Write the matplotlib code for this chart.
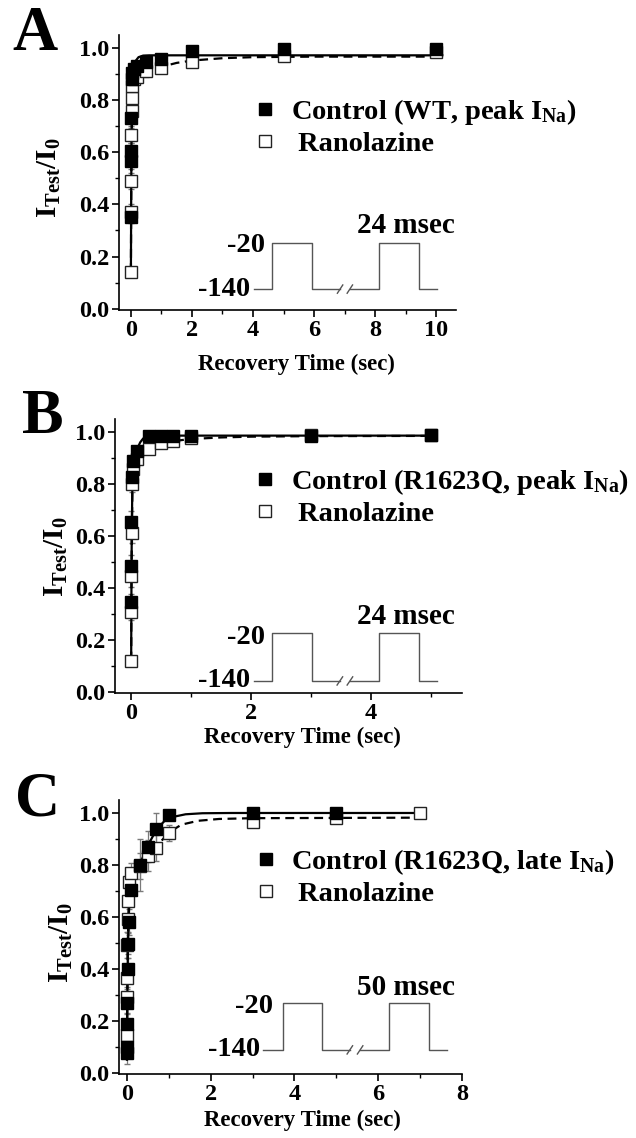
import matplotlib
matplotlib.use('Agg')
import matplotlib.pyplot as plt
from matplotlib.ticker import MultipleLocator

plt.rcParams['font.family'] = ['Liberation Serif', 'DejaVu Serif']
plt.rcParams['font.weight'] = 'bold'
plt.rcParams['mathtext.fontset'] = 'custom'
plt.rcParams['mathtext.rm'] = 'Liberation Serif:bold'
plt.rcParams['mathtext.it'] = 'Liberation Serif:bold'
plt.rcParams['mathtext.bf'] = 'Liberation Serif:bold'
plt.rcParams['axes.linewidth'] = 1.2

# ---- Panel A: WT, peak INa ----
a_ctl_t = [0.001, 0.002, 0.005, 0.01, 0.02, 0.05, 0.1, 0.2, 0.5, 1, 2, 5, 10]
a_ctl_y = [0.35, 0.565, 0.605, 0.73, 0.88, 0.905, 0.92, 0.93, 0.945, 0.958, 0.988, 0.995, 0.998]
a_ctl_e = [0.02, 0.03, 0.03, 0.03, 0.02, 0.02, 0.01, 0.01, 0.01, 0.01, 0.01, 0.01, 0.01]
a_ran_t = [0.001, 0.002, 0.005, 0.01, 0.02, 0.03, 0.05, 0.1, 0.2, 0.5, 1, 2, 5, 10]
a_ran_y = [0.14, 0.37, 0.49, 0.665, 0.76, 0.81, 0.855, 0.88, 0.89, 0.91, 0.925, 0.948, 0.97, 0.985]
a_ran_e = [0.02, 0.03, 0.03, 0.03, 0.03, 0.03, 0.02, 0.02, 0.02, 0.02, 0.015, 0.01, 0.01, 0.01]
a_ctl_fit_t = [0, 0.01, 0.02, 0.04, 0.07, 0.1, 0.15, 0.25, 0.4, 0.6, 10.2]
a_ctl_fit_y = [0.14, 0.45, 0.65, 0.82, 0.9, 0.93, 0.95, 0.965, 0.971, 0.972, 0.972]
a_ran_fit_t = [0, 0.01, 0.02, 0.04, 0.07, 0.1, 0.2, 0.4, 0.7, 1.0, 1.5, 2.0, 3.0, 4.0, 6.0, 10.2]
a_ran_fit_y = [0.14, 0.42, 0.6, 0.76, 0.83, 0.86, 0.88, 0.9, 0.915, 0.928, 0.943, 0.952, 0.961, 0.965, 0.967, 0.967]

# ---- Panel B: R1623Q, peak INa ----
b_ctl_t = [0.001, 0.002, 0.005, 0.01, 0.03, 0.1, 0.3, 0.5, 0.7, 1, 3, 5]
b_ctl_y = [0.345, 0.485, 0.655, 0.825, 0.89, 0.925, 0.986, 0.986, 0.986, 0.985, 0.985, 0.99]
b_ctl_e = [0.03, 0.04, 0.04, 0.03, 0.02, 0.01, 0.01, 0.01, 0.01, 0.01, 0.01, 0.01]
b_ran_t = [0.001, 0.002, 0.005, 0.01, 0.02, 0.03, 0.1, 0.3, 0.5, 0.7, 1, 3, 5]
b_ran_y = [0.118, 0.305, 0.444, 0.612, 0.80, 0.857, 0.895, 0.933, 0.958, 0.964, 0.977, 0.988, 0.988]
b_ran_e = [0.02, 0.03, 0.04, 0.04, 0.03, 0.02, 0.02, 0.015, 0.01, 0.01, 0.01, 0.01, 0.01]
b_ctl_fit_t = [0, 0.005, 0.01, 0.02, 0.04, 0.07, 0.1, 0.15, 0.2, 0.3, 0.5, 5.1]
b_ctl_fit_y = [0.13, 0.45, 0.62, 0.8, 0.88, 0.915, 0.935, 0.96, 0.975, 0.984, 0.986, 0.986]
b_ran_fit_t = [0, 0.005, 0.01, 0.02, 0.04, 0.07, 0.1, 0.2, 0.3, 0.5, 0.7, 1.0, 1.5, 2.0, 3.0, 5.1]
b_ran_fit_y = [0.12, 0.4, 0.58, 0.78, 0.86, 0.885, 0.9, 0.92, 0.935, 0.955, 0.965, 0.973, 0.979, 0.982, 0.984, 0.985]

# ---- Panel C: R1623Q, late INa ----
c_ctl_t = [0.001, 0.002, 0.005, 0.01, 0.02, 0.03, 0.05, 0.1, 0.3, 0.5, 0.7, 1, 3, 5]
c_ctl_y = [0.074, 0.10, 0.187, 0.27, 0.40, 0.496, 0.58, 0.702, 0.80, 0.87, 0.939, 0.992, 1.0, 1.0]
c_ctl_e = [0.04, 0.04, 0.04, 0.04, 0.04, 0.04, 0.05, 0.05, 0.1, 0.06, 0.06, 0.01, 0.01, 0.01]
c_ran_t = [0.001, 0.002, 0.005, 0.01, 0.02, 0.03, 0.05, 0.1, 0.3, 0.5, 0.7, 1, 3, 5, 7]
c_ran_y = [0.146, 0.29, 0.364, 0.49, 0.59, 0.66, 0.733, 0.767, 0.797, 0.836, 0.866, 0.924, 0.966, 0.98, 1.0]
c_ran_e = [0.03, 0.04, 0.04, 0.05, 0.05, 0.05, 0.04, 0.04, 0.05, 0.06, 0.05, 0.03, 0.02, 0.01, 0.01]
c_ctl_fit_t = [0, 0.01, 0.02, 0.04, 0.07, 0.1, 0.2, 0.3, 0.5, 0.7, 0.9, 1.1, 1.4, 1.8, 2.5, 7.0]
c_ctl_fit_y = [0.05, 0.3, 0.45, 0.6, 0.68, 0.715, 0.76, 0.8, 0.875, 0.935, 0.97, 0.985, 0.995, 0.999, 1.0, 1.0]
c_ran_fit_t = [0, 0.01, 0.02, 0.04, 0.07, 0.1, 0.2, 0.3, 0.5, 0.7, 1.0, 1.3, 1.7, 2.2, 3.0, 7.0]
c_ran_fit_y = [0.1, 0.35, 0.5, 0.63, 0.7, 0.73, 0.77, 0.795, 0.835, 0.87, 0.925, 0.955, 0.97, 0.977, 0.98, 0.982]

labels_ctl = ['Control (WT, peak I$_{\\mathrm{Na}}$)',
              'Control (R1623Q, peak I$_{\\mathrm{Na}}$)',
              'Control (R1623Q, late I$_{\\mathrm{Na}}$)']
label_ran = ' Ranolazine'
pulse_labels = ['24 msec', '24 msec', '50 msec']
panel_letters = ['A', 'B', 'C']

W, H = 636, 1138
fig = plt.figure(figsize=(W / 100, H / 100), dpi=100)

# layout in pixels: left, right, top, bottom
boxes = [(119, 456, 35, 310), (115, 462, 419, 693), (119, 462, 800, 1074)]
xlims = [(-0.39, 10.65), (-0.27, 5.52), (-0.19, 8.0)]
xmajor = [2, 2, 2]
letter_pos = [(12, 50), (22, 433), (15, 815)]
# legend anchor, xlabel coords, ylabel coords (axes fraction)
leg_anchor = [(0.40, 0.775), (0.40, 0.825), (0.394, 0.828)]
xlab_xy = [(0.528, -0.160), (0.539, -0.124), (0.536, -0.131)]
ylab_xy = [(-0.166, 0.48), (-0.13, 0.496), (-0.128, 0.48)]
# protocol sketch in axes fraction: x nodes, low, high, break, labels
proto = [
    dict(xs=[0.401, 0.454, 0.573, 0.772, 0.890, 0.944], lo=0.076, hi=0.244, brk=(0.656, 0.685),
         l20=(0.433, 0.236), l140=(0.389, 0.073), lp=(0.852, 0.309)),
    dict(xs=[0.401, 0.452, 0.568, 0.761, 0.876, 0.928], lo=0.044, hi=0.219, brk=(0.648, 0.677),
         l20=(0.432, 0.201), l140=(0.389, 0.047), lp=(0.839, 0.281)),
    dict(xs=[0.420, 0.478, 0.592, 0.787, 0.904, 0.956], lo=0.088, hi=0.259, brk=(0.673, 0.703),
         l20=(0.449, 0.245), l140=(0.411, 0.088), lp=(0.837, 0.314)),
]

data = [
    (a_ctl_t, a_ctl_y, a_ctl_e, a_ran_t, a_ran_y, a_ran_e, a_ctl_fit_t, a_ctl_fit_y, a_ran_fit_t, a_ran_fit_y),
    (b_ctl_t, b_ctl_y, b_ctl_e, b_ran_t, b_ran_y, b_ran_e, b_ctl_fit_t, b_ctl_fit_y, b_ran_fit_t, b_ran_fit_y),
    (c_ctl_t, c_ctl_y, c_ctl_e, c_ran_t, c_ran_y, c_ran_e, c_ctl_fit_t, c_ctl_fit_y, c_ran_fit_t, c_ran_fit_y),
]

gray = '#7a7a7a'
for i in range(3):
    l, r, t, b = boxes[i]
    ax = fig.add_axes([l / W, 1 - b / H, (r - l) / W, (b - t) / H])
    ct, cy, ce, rt, ry, re, cft, cfy, rft, rfy = data[i]

    ax.errorbar(rt, ry, yerr=re, fmt='none', ecolor=gray, elinewidth=0.9, capsize=2, zorder=2)
    ax.errorbar(ct, cy, yerr=ce, fmt='none', ecolor=gray, elinewidth=0.9, capsize=2, zorder=2)
    ax.plot(cft, cfy, '-', color='black', lw=1.6, zorder=3)
    ax.plot(rft, rfy, color='black', lw=1.6, linestyle=(0, (4, 2.5)), zorder=3)
    h_ran, = ax.plot(rt, ry, 's', ms=8.5, mfc='white', mec='#222222', mew=1.0, zorder=4)
    h_ctl, = ax.plot(ct, cy, 's', ms=8.5, mfc='black', mec='black', zorder=5)

    ax.set_xlim(*xlims[i])
    ax.set_ylim(-0.005, 1.05)
    ax.xaxis.set_major_locator(MultipleLocator(xmajor[i]))
    ax.xaxis.set_minor_locator(MultipleLocator(1))
    ax.yaxis.set_major_locator(MultipleLocator(0.2))
    ax.yaxis.set_minor_locator(MultipleLocator(0.1))
    ax.yaxis.set_major_formatter(plt.FormatStrFormatter('%.1f'))
    ax.spines['top'].set_visible(False)
    ax.spines['right'].set_visible(False)
    ax.tick_params(which='major', direction='out', length=5, width=1.2, labelsize=17.5, pad=2)
    ax.tick_params(which='minor', direction='out', length=3, width=1.0)

    ax.set_xlabel('Recovery Time (sec)', fontsize=16.5, fontweight='bold')
    ax.xaxis.set_label_coords(*xlab_xy[i])
    ax.set_ylabel('$\\mathrm{I_{Test}/I_0}$', fontsize=21)
    ax.yaxis.set_label_coords(*ylab_xy[i])

    ax.legend([h_ctl, h_ran], [labels_ctl[i], label_ran], loc='upper left',
              bbox_to_anchor=leg_anchor[i], frameon=False, fontsize=20.5,
              handlelength=0.8, handletextpad=0.5, labelspacing=0.15,
              borderpad=0, borderaxespad=0, markerscale=1.0)

    # stimulation protocol sketch
    p = proto[i]
    x0, x1, x2, x3, x4, x5 = p['xs']
    lo, hi = p['lo'], p['hi']
    b0, b1 = p['brk']
    kw = dict(color='#555555', lw=1.0, transform=ax.transAxes, clip_on=False)
    ax.plot([x0, x1, x1, x2, x2, b0], [lo, lo, hi, hi, lo, lo], **kw)
    ax.plot([b1, x3, x3, x4, x4, x5], [lo, lo, hi, hi, lo, lo], **kw)
    dx, dy = 0.008, 0.015
    for bx in (b0, b1):
        ax.plot([bx - dx, bx + dx], [lo - dy, lo + dy], **kw)
    ax.text(*p['l20'], '-20', transform=ax.transAxes, ha='right', va='center', fontsize=20.5)
    ax.text(*p['l140'], '-140', transform=ax.transAxes, ha='right', va='center', fontsize=20.5)
    ax.text(*p['lp'], pulse_labels[i], transform=ax.transAxes, ha='center', va='center', fontsize=21)

    lx, ly = letter_pos[i]
    fig.text(lx / W, 1 - ly / H, panel_letters[i], fontsize=45, fontweight='bold',
             ha='left', va='baseline')

fig.savefig('out.png', dpi=100)
